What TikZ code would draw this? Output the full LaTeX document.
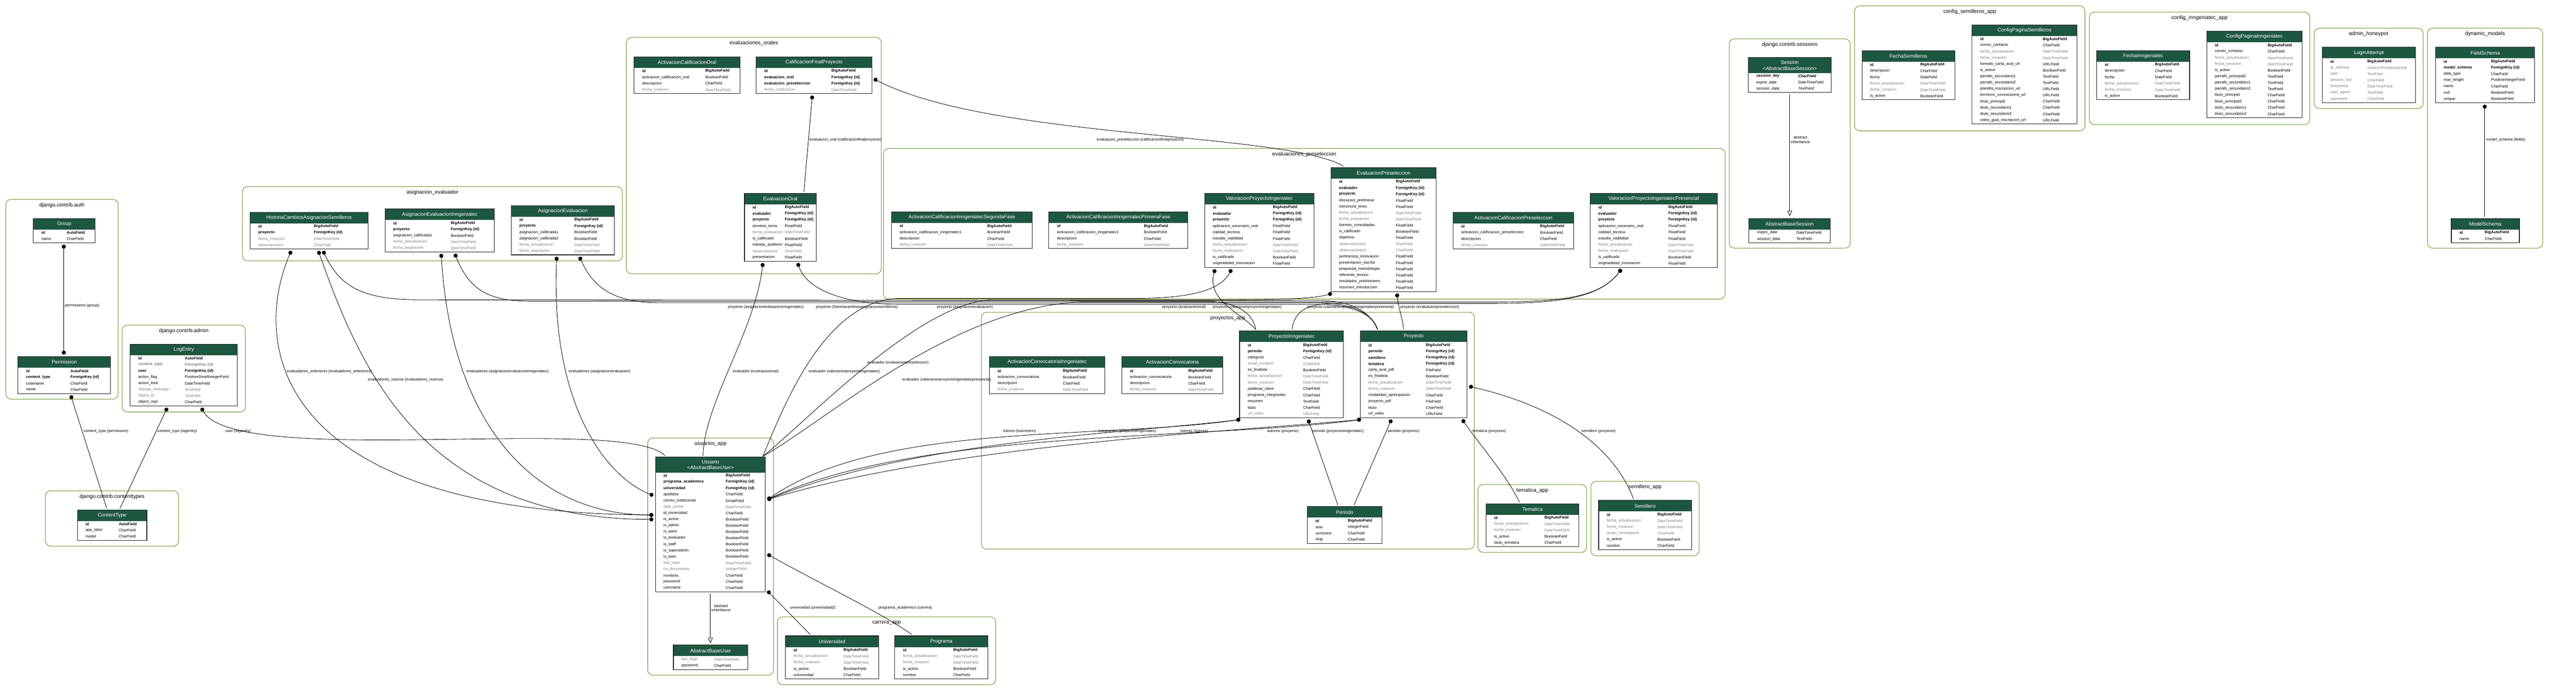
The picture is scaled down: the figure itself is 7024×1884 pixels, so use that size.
\documentclass[tikz,border=0pt]{standalone}
\usepackage{fontspec}
\setmainfont{Liberation Sans}
\usetikzlibrary{arrows.meta,fit}
\definecolor{hdrgreen}{RGB}{30,87,64}
\definecolor{appgreen}{RGB}{139,166,82}
\definecolor{fldgray}{RGB}{128,128,128}
\newcommand\kb{\bfseries}
\newcommand\kg{\color{fldgray}}
\newcommand\kn{}
\newcommand\ki{\itshape}
\newcommand\kbg{\bfseries\color{fldgray}}
\newcommand\kbi{\bfseries\itshape}
\tikzset{
  hdr/.style={fill=hdrgreen, text=white, font=\fontsize{13.8}{16}\selectfont, minimum height=30pt, inner sep=3pt, align=center, anchor=north west},
  fld/.style={anchor=west, inner sep=0pt, font=\fontsize{10.6}{12}\selectfont},
  tblframe/.style={draw=black!85, line width=1.6pt, inner sep=0pt},
  appbox/.style={draw=appgreen, line width=1.8pt, rounded corners=14pt},
  apptitle/.style={font=\fontsize{14.5}{17}\selectfont},
  lbl/.style={anchor=west, inner sep=0pt, font=\fontsize{10.6}{12}\selectfont},
  fk/.style={line width=1.2pt, {Circle[length=11pt,width=11pt]}-},
  mm/.style={line width=1.2pt, {Circle[length=11pt,width=11pt]}-{Circle[length=11pt,width=11pt]}},
  inh/.style={line width=1.2pt, -{Triangle[open,length=15pt,width=13pt]}}
}
% one table: [header opts]{id}{x}{y}{width}{type column}{rows}{title}{field/type/look}
\newcommand\model[9][]{%
  \node[hdr, minimum width=#5pt, #1] (#2h) at (#3,#4) {#8};
  \foreach \f/\t/\s [count=\k] in {#9} {
    \node[fld] (#2f\k) at ([shift={(22,17*\k-8.5)}]#2h.south west) {\s\f};
    \node[fld] (#2t\k) at ([shift={(#6,17*\k-8.5)}]#2h.south west) {\s\t};
  }
  \coordinate (#2b) at ([yshift=-17*#7-2]#2h.south east);
  \node[tblframe, fit=(#2h)(#2b)] (#2) {};
}
\catcode`\_=12
\begin{document}
\begin{tikzpicture}[x=1pt,y=-1pt]
  \useasboundingbox (0,0) rectangle (7024,1884);
  \fill[white] (0,0) rectangle (7024,1884);

  % apps
  \foreach \n/\xa/\ya/\xb/\yb/\t in {auth/16/544/322/1089/django.contrib.auth,
      admin/333/887/669/1124/django.contrib.admin,
      ctypes/124/1339/487/1490/django.contrib.contenttypes,
      asig/661/509/1697/712/asignacion_evaluador,
      orales/1708/102/2403/747/evaluaciones_orales,
      presel/2409/405/4704/816/evaluaciones_preseleccion,
      proyapp/2676/852/4020/1498/proyectos_app,
      usrapp/1766/1195/2109/1842/usuarios_app,
      carrapp/2120/1683/2715/1868/carrera_app,
      temapp/4030/1322/4326/1507/tematica_app,
      semapp/4338/1313/4633/1516/semillero_app,
      sessapp/4715/106/5045/677/django.contrib.sessions,
      cfgsem/5057/16/5685/357/config_semilleros_app,
      cfginn/5697/33/6298/340/config_inngeniatec_app,
      honey/6310/77/6607/296/admin_honeypot,
      dynm/6619/77/6933/677/dynamic_models} {
    \draw[appbox] (\xa,\ya) rectangle (\xb,\yb);
    \node[apptitle] (\n) at ({(\xa+\xb)/2},\ya+16) {\t};
  }

  % models
  \model{grp}{91}{596}{168}{91}{2}{Group}{id/AutoField/\kb, name/CharField/\kn}
  \model{perm}{49}{973}{252}{143}{4}{Permission}{id/AutoField/\kb, content_type/ForeignKey (id)/\kb, codename/CharField/\kn, name/CharField/\kn}
  \model{log}{355}{939}{292}{149}{8}{LogEntry}{id/AutoField/\kb, content_type/ForeignKey (id)/\kbg, user/ForeignKey (id)/\kb, action_flag/PositiveSmallIntegerField/\kn, action_time/DateTimeField/\kn, change_message/TextField/\kg, object_id/TextField/\kg, object_repr/CharField/\kn}
  \model{ct}{211}{1391}{189}{113}{3}{ContentType}{id/AutoField/\kb, app_label/CharField/\kn, model/CharField/\kn}
  \model{hist}{682}{579}{321}{174}{4}{HistoriaCambiosAsignacionSemilleros}{id/BigAutoField/\kb, proyecto/ForeignKey (id)/\kb, fecha_creacion/DateTimeField/\kg, observaciones/CharField/\kg}
  \model{ainn}{1050}{570}{298}{179}{5}{AsignacionEvaluacionInngeniatec}{id/BigAutoField/\kb, proyecto/ForeignKey (id)/\kb, asignacion_calificada1/BooleanField/\kn, fecha_actualizacion/DateTimeField/\kg, fecha_asignacion/DateTimeField/\kg}
  \model{aev}{1394}{561}{281}{172}{6}{AsignacionEvaluacion}{id/BigAutoField/\kb, proyecto/ForeignKey (id)/\kb, asignacion_calificada1/BooleanField/\kn, asignacion_calificada2/BooleanField/\kn, fecha_actualizacion/DateTimeField/\kg, fecha_asignacion/DateTimeField/\kg}
  \model{aco}{1729}{155}{288}{194}{4}{ActivacionCalificacionOral}{id/BigAutoField/\kb, activacion_calificacion_oral/BooleanField/\kn, descripcion/CharField/\kn, fecha_creacion/DateTimeField/\kg}
  \model{cfp}{2062}{155}{315}{205}{4}{CalificacionFinalProyecto}{id/BigAutoField/\kb, evaluacion_oral/ForeignKey (id)/\kb, evaluacion_preseleccion/ForeignKey (id)/\kb, fecha_calificacion/DateTimeField/\kg}
  \model{eor}{2030}{527}{195}{110}{9}{EvaluacionOral}{id/BigAutoField/\kb, evaluador/ForeignKey (id)/\kb, proyecto/ForeignKey (id)/\kb, dominio_tema/FloatField/\kn, fecha_evaluacion/DateTimeField/\kg, is_calificado/BooleanField/\kn, manejo_auditorio/FloatField/\kn, observaciones/CharField/\kg, presentacion/FloatField/\kn}
  \model{acs}{2431}{578}{383}{261}{4}{ActivacionCalificacionInngeniatecSegundaFase}{id/BigAutoField/\kb, activacion_calificacion_inngeriatec1/BooleanField/\kn, descripcion/CharField/\kn, fecha_creacion/DateTimeField/\kg}
  \model{acp}{2860}{578}{378}{259}{4}{ActivacionCalificacionInngeniatecPrimeraFase}{id/BigAutoField/\kb, activacion_calificacion_inngeriatec1/BooleanField/\kn, descripcion/CharField/\kn, fecha_creacion/DateTimeField/\kg}
  \model{vpi}{3285}{527}{297}{186}{10}{ValoracionProyectoIngeniatec}{id/BigAutoField/\kb, evaluador/ForeignKey (id)/\kb, proyecto/ForeignKey (id)/\kb, aplicacion_escenario_real/FloatField/\kn, calidad_tecnica/FloatField/\kn, estudio_viablidad/FloatField/\kn, fecha_actualizacion/DateTimeField/\kg, fecha_evaluacion/DateTimeField/\kg, is_calificado/BooleanField/\kn, originadidad_innovacion/FloatField/\kn}
  \model{epr}{3629}{457}{287}{177}{18}{EvaluacionPreseleccion}{id/BigAutoField/\kb, evaluador/ForeignKey (id)/\kb, proyecto/ForeignKey (id)/\kb, discucion_preliminar/FloatField/\kn, estructura_texto/FloatField/\kn, fecha_actualizacion/DateTimeField/\kg, fecha_evaluacion/DateTimeField/\kg, fuentes_consultadas/FloatField/\kn, is_calificado/BooleanField/\kn, objetivos/FloatField/\kn, observaciones1/CharField/\kg, observaciones2/CharField/\kg, pertinencia_innovacion/FloatField/\kn, presentacion_escrita/FloatField/\kn, propuesta_metodologia/FloatField/\kn, referente_teorico/FloatField/\kn, resultados_preliminares/FloatField/\kn, resumen_introduccion/FloatField/\kn}
  \model{acpre}{3962}{579}{329}{237}{4}{ActivacionCalificacionPreseleccion}{id/BigAutoField/\kb, activacion_calificacion_preseleccion/BooleanField/\kn, descripcion/CharField/\kn, fecha_creacion/DateTimeField/\kg}
  \model{vpp}{4336}{527}{346}{213}{10}{ValoracionProyectoIngeniatecPresencial}{id/BigAutoField/\kb, evaluador/ForeignKey (id)/\kb, proyecto/ForeignKey (id)/\kb, aplicacion_escenario_real/FloatField/\kn, calidad_tecnica/FloatField/\kn, estudio_viablidad/FloatField/\kn, fecha_actualizacion/DateTimeField/\kg, fecha_evaluacion/DateTimeField/\kg, is_calificado/BooleanField/\kn, originadidad_innovacion/FloatField/\kn}
  \model{acci}{2698}{973}{314}{200}{4}{ActivacionConvocatoriaInngeniatec}{id/BigAutoField/\kb, activacion_convocatoria/BooleanField/\kn, descripcion/CharField/\kn, fecha_creacion/DateTimeField/\kg}
  \model{acc}{3059}{973}{275}{181}{4}{ActivacionConvocatoria}{id/BigAutoField/\kb, activacion_convocatoria/BooleanField/\kn, descripcion/CharField/\kn, fecha_creacion/DateTimeField/\kg}
  \model{pin}{3380}{903}{283}{173}{12}{ProyectoInngeniatec}{id/BigAutoField/\kb, periodo/ForeignKey (id)/\kb, categoria/CharField/\kn, email_contacto/CharField/\kg, es_finalista/BooleanField/\kn, fecha_actualizacion/DateTimeField/\kg, fecha_creacion/DateTimeField/\kg, palabras_clave/CharField/\kn, programa_integrantes/CharField/\kn, resumen/TextField/\kn, titulo/CharField/\kn, url_video/URLField/\kg}
  \model{pro}{3709}{903}{291}{179}{12}{Proyecto}{id/BigAutoField/\kb, periodo/ForeignKey (id)/\kb, semillero/ForeignKey (id)/\kb, tematica/ForeignKey (id)/\kb, carta_aval_pdf/FileField/\kn, es_finalista/BooleanField/\kn, fecha_actualizacion/DateTimeField/\kg, fecha_creacion/DateTimeField/\kg, modalidad_aprticipacion/CharField/\kn, proyecto_pdf/FileField/\kn, titulo/CharField/\kn, url_video/URLField/\kn}
  \model{per}{3565}{1382}{203}{110}{4}{Periodo}{id/BigAutoField/\kb, anio/IntegerField/\kn, semestre/CharField/\kn, slug/CharField/\kn}
  \model[minimum height=42pt]{usr}{1787}{1247}{300}{192}{19}{Usuario\\{\itshape <AbstractBaseUser>}}{id/BigAutoField/\kb, programa_academico/ForeignKey (id)/\kb, universidad/ForeignKey (id)/\kb, apellidos/CharField/\kn, correo_institicional/EmailField/\kn, date_joined/DateTimeField/\kg, id_iniversidad/CharField/\kn, is_active/BooleanField/\kn, is_admin/BooleanField/\kn, is_autor/BooleanField/\kn, is_evaluador/BooleanField/\kn, is_staff/BooleanField/\kn, is_superadmin/BooleanField/\kn, is_tutor/BooleanField/\kn, last_login/DateTimeField/\kg, no_documento/IntegerField/\kg, nombres/CharField/\kn, password/CharField/\ki, username/CharField/\kn}
  \model{abu}{1836}{1760}{203}{111}{2}{AbstractBaseUser}{last_login/DateTimeField/\kg, password/CharField/\kn}
  \model{uni}{2142}{1735}{253}{158}{5}{Universidad}{id/BigAutoField/\kb, fecha_actualizacion/DateTimeField/\kg, fecha_creacion/DateTimeField/\kg, is_active/BooleanField/\kn, universidad/CharField/\kn}
  \model{prg}{2440}{1735}{253}{159}{5}{Programa}{id/BigAutoField/\kb, fecha_actualizacion/DateTimeField/\kg, fecha_creacion/DateTimeField/\kg, is_active/BooleanField/\kn, nombre/CharField/\kn}
  \model{tem}{4052}{1374}{253}{159}{5}{Tematica}{id/BigAutoField/\kb, fecha_actualizacion/DateTimeField/\kg, fecha_creacion/DateTimeField/\kg, is_active/BooleanField/\kn, titulo_tematica/CharField/\kn}
  \model{sem}{4359}{1365}{253}{160}{6}{Semillero}{id/BigAutoField/\kb, fecha_actualizacion/DateTimeField/\kg, fecha_creacion/DateTimeField/\kg, grupo_investigació/CharField/\kg, is_active/BooleanField/\kn, nombre/CharField/\kn}
  \model[minimum height=42pt]{ses}{4767}{157}{226}{136}{3}{Session\\{\itshape <AbstractBaseSession>}}{session_key/CharField/\kbi, expire_date/DateTimeField/\ki, session_data/TextField/\ki}
  \model{abs}{4769}{596}{221}{129}{2}{AbstractBaseSession}{expire_date/DateTimeField/\kn, session_data/TextField/\kn}
  \model{fsem}{5077}{138}{253}{159}{6}{FechaSemilleros}{id/BigAutoField/\kb, descripcion/CharField/\kn, fecha/DateField/\kn, fecha_actualizacion/DateTimeField/\kg, fecha_creacion/DateTimeField/\kg, is_active/BooleanField/\kn}
  \model{cpsem}{5377}{68}{286}{193}{14}{ConfigPaginaSemilleros}{id/BigAutoField/\kb, correo_contacto/CharField/\kn, fecha_actualizacion/DateTimeField/\kg, fecha_creacion/DateTimeField/\kg, formato_carta_aval_url/URLField/\kn, is_active/BooleanField/\kn, parrafo_secundario1/TextField/\kn, parrafo_secundario2/TextField/\kn, plantilla_inscripcion_url/URLField/\kn, terminos_convocatoria_url/URLField/\kn, titulo_principal/CharField/\kn, titulo_secundario1/CharField/\kn, titulo_secundario2/CharField/\kn, video_guia_inscripcion_url/URLField/\kn}
  \model{finn}{5717}{138}{253}{159}{6}{FechaInngeniatec}{id/BigAutoField/\kb, descripcion/CharField/\kn, fecha/DateField/\kn, fecha_actualizacion/DateTimeField/\kg, fecha_creacion/DateTimeField/\kg, is_active/BooleanField/\kn}
  \model{cpinn}{6017}{85}{260}{166}{12}{ConfigPaginaInngeniatec}{id/BigAutoField/\kb, correo_contacto/CharField/\kn, fecha_actualizacion/DateTimeField/\kg, fecha_creacion/DateTimeField/\kg, is_active/BooleanField/\kn, parrafo_principal2/TextField/\kn, parrafo_secundario1/TextField/\kn, parrafo_secundario2/TextField/\kn, titulo_principal/CharField/\kn, titulo_principal2/CharField/\kn, titulo_secundario1/CharField/\kn, titulo_secundario2/CharField/\kn}
  \model{login}{6332}{129}{254}{123}{7}{LoginAttempt}{id/BigAutoField/\kb, ip_address/GenericIPAddressField/\kg, path/TextField/\kg, session_key/CharField/\kg, timestamp/DateTimeField/\kg, user_agent/TextField/\kg, username/CharField/\kg}
  \model{fsch}{6641}{129}{270}{151}{7}{FieldSchema}{id/BigAutoField/\kb, model_schema/ForeignKey (id)/\kb, data_type/CharField/\kn, max_length/PositiveIntegerField/\kn, name/CharField/\kn, null/BooleanField/\kn, unique/BooleanField/\kn}
  \model{msch}{6684}{596}{185}{91}{2}{ModelSchema}{id/BigAutoField/\kb, name/CharField/\kn}

  % connector ends
  \foreach \n/\x/\y in {grpS/174/667.5, permN/174/967.5, permS/193/1078.5, ctN1/291/1387, ctN2/327/1387,
      logS1/456/1112.5, logS2/549/1112.5, usrNW/1813/1243, usrN/1917/1243, usrNE/2080/1245,
      usrW1/1781.5/1352, usrW2/1781.5/1405, usrW3/1781.5/1417, usrE/2092.5/1363,
      usrS1/2092.5/1512, usrS2/2092.5/1612, usrB/1937/1620, abuN/1937/1755,
      histS1/794/684.5, histS2/868/684.5, histS3/881/684.5, ainnS1/1203/692.5, ainnS2/1240/692.5,
      aevS1/1518/700.5, aevS2/1580/700.5, cfpS/2215/260.5, cfpE/2382.5/215, eorN/2192/523,
      eorS1/2080/717.5, eorS2/2175/717.5, vpiS1/3313/734.5, vpiS2/3358/734.5, eprN/3663/453,
      eprS1/3632/800.5, eprS2/3809/800.5, vppS/4421/734.5,
      pinN1/3424/899, pinN2/3523/899, proN1/3756/899, proN2/3827/899,
      pinS1/3382/1144.5, pinS2/3567/1144.5, proS1/3711/1144.5, proS2/3794/1144.5, proS3/3987/1144.5,
      proE/4005.5/1054, perN1/3648/1378, perN2/3692/1378, temN/4143/1370, semN/4454/1361,
      uniN/2209/1731, prgN/2486/1731, sesB/4880/257, absN/4880/590, fschS/6775/285.5, mschN/6775/591}
    \coordinate (\n) at (\x,\y);

  % connectors
  \draw[mm] (grpS) -- (permN);
  \foreach \from/\to in {permS/ctN1, logS1/ctN2, cfpS/eorN, pinS2/perN1, proS2/perN2, usrS2/uniN, fschS/mschN}
    \draw[fk] (\from) -- (\to);
  \foreach \from/\to in {usrB/abuN, sesB/absN}
    \draw[inh] (\from) -- (\to);
  \draw[fk] (logS2) .. controls (640,1280) and (1700,1130) .. (usrNW);
  \draw[mm] (histS1) .. controls (680,950) and (760,1400) .. (usrW2);
  \draw[mm] (histS2) .. controls (980,1000) and (1150,1417) .. (usrW3);
  \draw[mm] (ainnS1) .. controls (1230,1150) and (1450,1405) .. (usrW2);
  \draw[mm] (aevS1) .. controls (1500,1100) and (1650,1300) .. (usrW1);
  \draw[fk] (histS3) .. controls (930,790) and (1000,818) .. (1150,818) -- (3600,820) .. controls (3700,822) and (3740,860) .. (proN1);
  \draw[fk] (ainnS2) .. controls (1280,790) and (1330,822) .. (1450,822) -- (3300,822) .. controls (3380,826) and (3418,860) .. (pinN1);
  \draw[fk] (aevS2) .. controls (1620,790) and (1680,826) .. (1800,826) -- (3600,826) .. controls (3700,828) and (3745,862) .. (proN1);
  \draw[fk] (eorS2) .. controls (2200,790) and (2300,830) .. (2450,830) -- (3600,830) .. controls (3700,832) and (3748,865) .. (proN1);
  \draw[fk] (cfpE) .. controls (2700,380) and (3500,360) .. (eprN);
  \draw[fk] (eorS1) .. controls (2060,900) and (1920,1100) .. (usrN);
  \draw[fk] (vpiS1) .. controls (3290,820) and (3380,850) .. (pinN1);
  \draw[fk] (vpiS2) .. controls (3330,790) and (3250,814) .. (3100,814) -- (2450,814) .. controls (2250,820) and (2140,1100) .. (usrNE);
  \draw[fk] (eprS1) .. controls (3580,816) and (3480,818) .. (3300,818) -- (2700,818) .. controls (2500,830) and (2200,1150) .. (usrNE);
  \draw[fk] (eprS2) .. controls (3815,850) and (3825,870) .. (proN2);
  \draw[fk] (vppS) .. controls (4360,815) and (4250,828) .. (4050,828) -- (3620,828) .. controls (3550,832) and (3528,860) .. (pinN2);
  \draw[fk] (vppS) .. controls (4360,815) and (4250,824) .. (4050,824) -- (2950,824) .. controls (2600,835) and (2250,1150) .. (usrNE);
  \draw[mm] (pinS1) .. controls (3000,1200) and (2400,1150) .. (usrE);
  \draw[mm] (pinS1) .. controls (3100,1180) and (2500,1200) .. (usrE);
  \draw[mm] (proS1) .. controls (3300,1200) and (2500,1170) .. (usrE);
  \draw[mm] (proS1) .. controls (3400,1175) and (2600,1210) .. (usrE);
  \draw[fk] (proS3) .. controls (4040,1220) and (4110,1300) .. (temN);
  \draw[fk] (proE) .. controls (4250,1110) and (4400,1220) .. (semN);
  \draw[fk] (usrS1) .. controls (2250,1600) and (2400,1670) .. (prgN);

  % connector labels
  \foreach \x/\y/\t [count=\i] in {177/834/permissions (group),
      228/1177/content_type (permission), 429/1177/content_type (logentry), 615/1177/user (logentry),
      782/1013/evaluadores_anteriores (evaluadores_anteriores), 1003/1036/evaluadores_nuevos (evaluadores_nuevos),
      1272/1013/evaluadores (asignacionevaluacioninngeniatec), 1550/1013/evaluadores (asignacionevaluacion),
      1998/1013/evaluador (evaluacionoral), 2205/1013/evaluador (valoracionproyectoingeniatec),
      2365/990/evaluador (evaluacionpreseleccion), 2460/1036/evaluador (valoracionproyectoingeniatecpresencial),
      1985/838/proyecto (asignacionevaluacioninngeniatec), 2225/838/proyecto (historiacambiosasignacionsemilleros),
      2555/838/proyecto (asignacionevaluacion), 3169/838/proyecto (evaluacionoral),
      3307/838/proyecto (valoracionproyectoingeniatec), 3565/838/proyecto (valoracionproyectoingeniatecpresencial),
      3818/838/proyecto (evaluacionpreseleccion),
      2207/381/evaluacion_oral (calificacionfinalproyecto), 2990/381/evaluacion_preseleccion (calificacionfinalproyecto),
      2735/1177/tutores (tutoresInn), 2995/1177/integrantes (proyectoinngeniatec), 3219/1177/tutores (tutores),
      3455/1177/autores (proyecto), 3578/1177/periodo (proyectoinngeniatec), 3784/1177/periodo (proyecto),
      4015/1177/tematica (proyecto), 4312/1177/semillero (proyecto),
      2154/1659/universidad (universidad2), 2395/1659/programa_academico (carrera), 6779/381/model_schema (fields)}
    \node[lbl] (lab\i) at (\x,\y) {\t};
  \node[lbl, align=center] (inhusr) at (1940,1659) {abstract\\inheritance};
  \node[lbl, align=center] (inhses) at (4883,381) {abstract\\inheritance};
\end{tikzpicture}
\end{document}
